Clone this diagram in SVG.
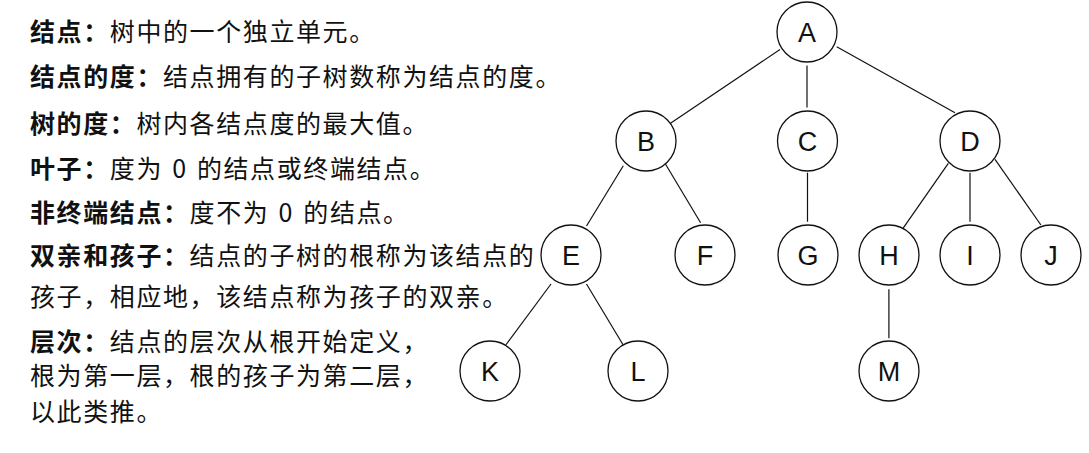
<svg xmlns="http://www.w3.org/2000/svg" width="1089" height="453" viewBox="0 0 1089 453">
<style>
.t{font-family:"Noto Sans CJK SC","Noto Sans",sans-serif;font-size:25px;fill:#111;letter-spacing:1.6px;word-spacing:2px}
.b{font-weight:700}
.n circle{fill:#fff;stroke:#111;stroke-width:1.3}
.n text{font-family:"Liberation Sans",Arial,sans-serif;font-size:27px;fill:#111;text-anchor:middle}
#edges line{stroke:#111;stroke-width:1.2}
</style>
<rect width="1089" height="453" fill="#fff"/>
<g id="definitions">
<text class="t" x="30" y="41"><tspan class="b">结点：</tspan>树中的一个独立单元。</text>
<text class="t" x="30" y="86"><tspan class="b">结点的度：</tspan>结点拥有的子树数称为结点的度。</text>
<text class="t" x="30" y="133"><tspan class="b">树的度：</tspan>树内各结点度的最大值。</text>
<text class="t" x="30" y="178"><tspan class="b">叶子：</tspan>度为 0 的结点或终端结点。</text>
<text class="t" x="30" y="222"><tspan class="b">非终端结点：</tspan>度不为 0 的结点。</text>
<text class="t" x="30" y="265"><tspan class="b">双亲和孩子：</tspan>结点的子树的根称为该结点的</text>
<text class="t" x="30" y="306">孩子，相应地，该结点称为孩子的双亲。</text>
<text class="t" x="30" y="351"><tspan class="b">层次：</tspan>结点的层次从根开始定义，</text>
<text class="t" x="30" y="385">根为第一层，根的孩子为第二层，</text>
<text class="t" x="30" y="421">以此类推。</text>
</g>
<g id="edges">
<line x1="780" y1="49.5" x2="670.5" y2="123.3"/>
<line x1="807" y1="65.5" x2="807" y2="107.5"/>
<line x1="836.7" y1="46.7" x2="955" y2="112.7"/>
<line x1="623.3" y1="165.7" x2="586.5" y2="226"/>
<line x1="665" y1="163.3" x2="700.6" y2="222.7"/>
<line x1="807.5" y1="172.7" x2="807.5" y2="221.7"/>
<line x1="948.3" y1="163.3" x2="903" y2="228.3"/>
<line x1="970" y1="172.7" x2="970" y2="221.7"/>
<line x1="995" y1="159.3" x2="1040.9" y2="225"/>
<line x1="551" y1="284" x2="505.8" y2="345"/>
<line x1="586.5" y1="284" x2="623.2" y2="345"/>
<line x1="888.9" y1="289.3" x2="888.9" y2="338.3"/>
</g>
<g id="node-A" class="n"><circle cx="807" cy="32" r="30"/><text x="807" y="42">A</text></g>
<g id="node-B" class="n"><circle cx="646" cy="141" r="30"/><text x="646" y="151">B</text></g>
<g id="node-C" class="n"><circle cx="807.5" cy="141" r="30"/><text x="807.5" y="151">C</text></g>
<g id="node-D" class="n"><circle cx="970" cy="141" r="30"/><text x="970" y="151">D</text></g>
<g id="node-E" class="n"><circle cx="571" cy="255" r="30"/><text x="571" y="265">E</text></g>
<g id="node-F" class="n"><circle cx="705" cy="255" r="30"/><text x="705" y="265">F</text></g>
<g id="node-G" class="n"><circle cx="808" cy="255" r="30"/><text x="808" y="265">G</text></g>
<g id="node-H" class="n"><circle cx="889" cy="255" r="30"/><text x="889" y="265">H</text></g>
<g id="node-I" class="n"><circle cx="970" cy="255" r="30"/><text x="970" y="265">I</text></g>
<g id="node-J" class="n"><circle cx="1051" cy="255" r="30"/><text x="1051" y="265">J</text></g>
<g id="node-K" class="n"><circle cx="490" cy="371" r="30"/><text x="490" y="381">K</text></g>
<g id="node-L" class="n"><circle cx="638" cy="371" r="30"/><text x="638" y="381">L</text></g>
<g id="node-M" class="n"><circle cx="889" cy="371" r="30"/><text x="889" y="381">M</text></g>
</svg>
